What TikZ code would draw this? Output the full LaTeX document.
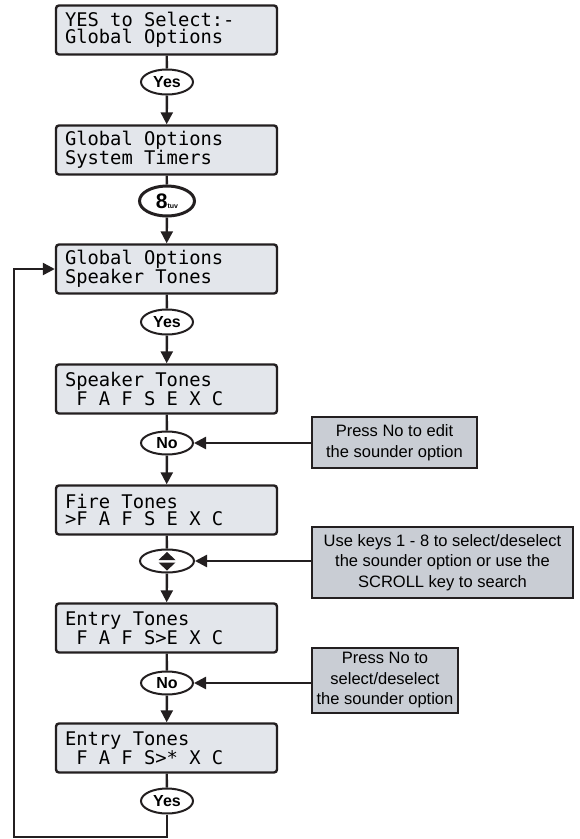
\documentclass[tikz,border=0pt]{standalone}
\usepackage{fontspec}
\setmainfont{Liberation Sans}
\newfontfamily\lcdfont{DejaVu Sans Mono}
\usetikzlibrary{arrows.meta,shapes.geometric}
\definecolor{LcdSoft}{HTML}{E3E6EB}
\definecolor{NoteGrey}{HTML}{C9CDD4}
\definecolor{InkDark}{HTML}{231F20}
\newcommand\lcdsize[1]{\lcdfont\fontsize{18.8}{#1}\selectfont}
% one display row, every character in its own cell
\ExplSyntaxOn
\NewDocumentCommand\lcdrow{m}{\str_map_inline:nn{#1}{\makebox[11.3pt][l]{##1}}}
\ExplSyntaxOff

\begin{document}
\begin{tikzpicture}[x=1pt,y=-1pt,
  lcd/.style={draw=InkDark,line width=2.4pt,fill=LcdSoft,rounded corners=3pt,
    minimum width=221pt,minimum height=49pt,text width=203pt,align=left,
    inner sep=0pt,font=\lcdsize{17.5}},
  key/.style={ellipse,draw=InkDark,line width=2pt,fill=white,minimum width=52pt,
    minimum height=25pt,inner sep=0pt,font=\bfseries\fontsize{16}{16}\selectfont},
  note/.style={draw=InkDark,line width=2.4pt,fill=NoteGrey,align=center,
    inner sep=0pt,font=\fontsize{16.5}{20.5}\selectfont},
  link/.style={draw=InkDark,line width=2.4pt},
  arrow/.style={link,-{Triangle[length=12pt,width=12pt]}}]
  \useasboundingbox (0,0) rectangle (579,839);

  % display screens
  \node[lcd] (select) at (166.5,30) {\lcdrow{YES to Select:-}\\\lcdrow{Global Options}};
  \node[lcd] (timers) at (166.5,150) {\lcdrow{Global Options}\\\lcdrow{System Timers}};
  \node[lcd] (speaker) at (166.5,269) {\lcdrow{Global Options}\\\lcdrow{Speaker Tones}};
  \node[lcd] (tones) at (166.5,389) {\lcdrow{Speaker Tones}\\\lcdrow{ F A F S E X C}};
  \node[lcd] (fire) at (166.5,510) {\lcdrow{Fire Tones}\\\lcdrow{>F A F S E X C}};
  \node[lcd] (entry) at (166.5,628) {\lcdrow{Entry Tones}\\\lcdrow{ F A F S>E X C}};
  \node[lcd] (entryset) at (166.5,748) {\lcdrow{Entry Tones}\\\lcdrow{ F A F S>* X C}};

  % keys
  \node[key] (yesA) at (167,82) {Yes};
  \node[key,line width=3pt,minimum width=55pt,minimum height=30pt] (eight) at (167,201)
    {\fontsize{21}{21}\selectfont 8\fontsize{7}{7}\selectfont tuv};
  \node[key] (yesB) at (167,322) {Yes};
  \node[key,minimum height=23pt] (noA) at (167,443) {No};
  \node[key,minimum width=54pt,minimum height=23pt] (scroll) at (167,561) {};
  \begin{scope}[shift={(scroll.center)}]
    \fill[InkDark] (-8.5,-1) -- (8.5,-1) -- (0,-9) -- cycle;
    \fill[InkDark] (-8.5,1.5) -- (8.5,1.5) -- (0,9.5) -- cycle;
  \end{scope}
  \node[key,minimum height=23pt] (noB) at (167,683) {No};
  \node[key] (yesC) at (167,801) {Yes};

  % notes
  \node[note,minimum width=165pt,minimum height=51pt] (editnote) at (394.5,442.5)
    {Press No to edit\\the sounder option};
  \node[note,minimum width=261pt,minimum height=71pt] (keysnote) at (442.5,562.5)
    {Use keys 1 - 8 to select/deselect\\the sounder option or use the\\SCROLL key to search};
  \node[note,minimum width=146pt,minimum height=65pt] (picknote) at (385,680.5)
    {Press No to\\select/deselect\\the sounder option};

  % connectors
  \draw[link] (select) -- (yesA);
  \draw[arrow] (yesA) -- (timers);
  \draw[link] (timers) -- (eight);
  \draw[arrow] (eight) -- (speaker);
  \draw[link] (speaker) -- (yesB);
  \draw[arrow] (yesB) -- (tones);
  \draw[link] (tones) -- (noA);
  \draw[arrow] (noA) -- (fire);
  \draw[link] (fire) -- (scroll);
  \draw[arrow] (scroll) -- (entry);
  \draw[link] (entry) -- (noB);
  \draw[arrow] (noB) -- (entryset);
  \draw[link] (entryset) -- (yesC);
  \draw[arrow] (editnote.west |- noA) -- (noA);
  \draw[arrow] (keysnote.west |- scroll) -- (scroll);
  \draw[arrow] (picknote.west |- noB) -- (noB);

  % loop back
  \coordinate (loopend) at (14,837);
  \draw[arrow] (yesC) |- (loopend) |- (speaker.west);
\end{tikzpicture}
\end{document}
